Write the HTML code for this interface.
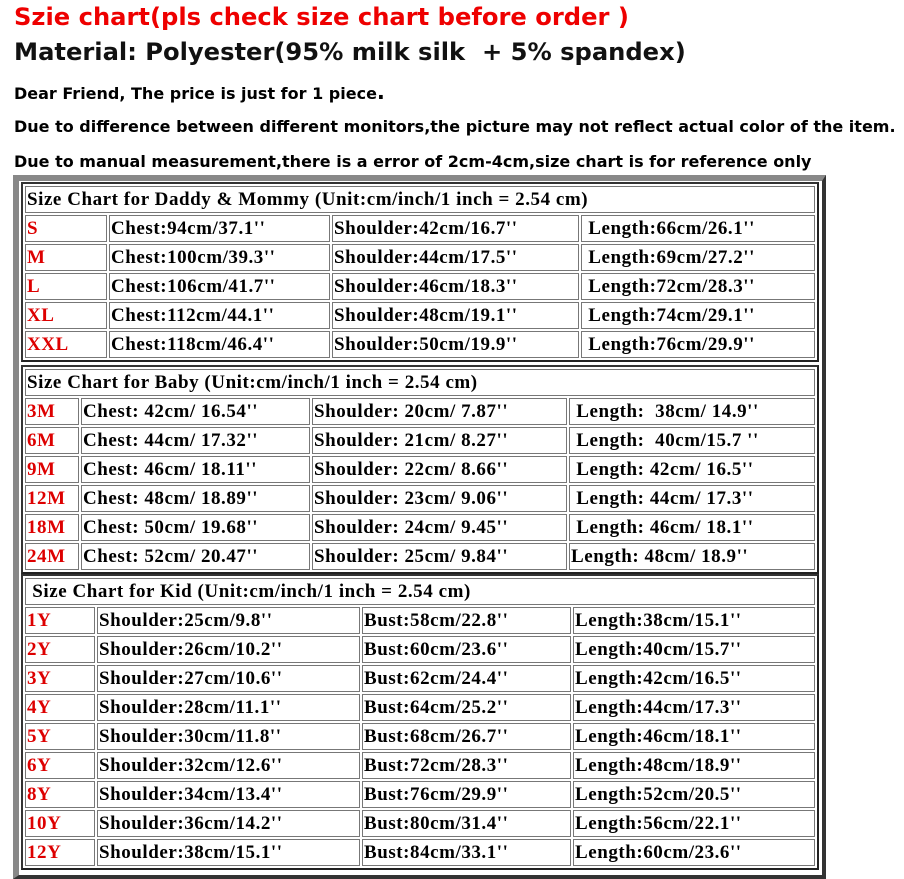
<!DOCTYPE html>
<html><head><meta charset="utf-8"><style>
body{margin:0;width:904px;height:877px;background:#fff;position:relative;overflow:hidden;font-family:"DejaVu Sans","Liberation Sans",sans-serif}
.t{position:absolute;left:14px;font-weight:bold;white-space:nowrap}
.frame{position:absolute;left:13px;top:175px;width:803px;height:694px;border-left:6px solid #888;border-top:6px solid #888;border-right:4px solid #333;border-bottom:4px solid #333}
table{position:absolute;left:21px;width:796px;table-layout:fixed;border-collapse:separate;border-spacing:2px;border:2px solid #333;border-right-color:#222;border-bottom-color:#222;font-family:"Liberation Serif",serif;font-weight:bold;font-size:19px;letter-spacing:0.55px}
td{border:1px solid #777;height:25px;padding:0 1px;white-space:nowrap;overflow:hidden;line-height:25px}
td.r{color:#d00}
</style></head><body>
<div class="t" style="top:3px;font-size:24.2px;color:#e00">Szie chart(pls check size chart before order )</div>
<div class="t" style="top:38px;font-size:24.2px;color:#111">Material: Polyester(95% milk silk&nbsp; + 5% spandex)</div>
<div class="t" style="top:80px;font-size:16px">Dear Friend, The price is just for 1 piece<span style="font-size:21px">.</span></div>
<div class="t" style="top:117px;font-size:16px">Due to difference between different monitors,the picture may not reflect actual color of the item.</div>
<div class="t" style="top:152px;font-size:16px">Due to manual measurement,there is a error of 2cm-4cm,size chart is for reference only</div>
<div class="frame"></div>

<table style="top:182px"><colgroup><col style="width:82px"><col style="width:221px"><col style="width:247px"><col style="width:234px"></colgroup>
<tr><td colspan="4">Size Chart for Daddy &amp; Mommy (Unit:cm/inch/1 inch = 2.54 cm)</td></tr>
<tr><td class="r">S</td><td>Chest:94cm/37.1''</td><td>Shoulder:42cm/16.7''</td><td>&nbsp;Length:66cm/26.1''</td></tr>
<tr><td class="r">M</td><td>Chest:100cm/39.3''</td><td>Shoulder:44cm/17.5''</td><td>&nbsp;Length:69cm/27.2''</td></tr>
<tr><td class="r">L</td><td>Chest:106cm/41.7''</td><td>Shoulder:46cm/18.3''</td><td>&nbsp;Length:72cm/28.3''</td></tr>
<tr><td class="r">XL</td><td>Chest:112cm/44.1''</td><td>Shoulder:48cm/19.1''</td><td>&nbsp;Length:74cm/29.1''</td></tr>
<tr><td class="r">XXL</td><td>Chest:118cm/46.4''</td><td>Shoulder:50cm/19.9''</td><td>&nbsp;Length:76cm/29.9''</td></tr>
</table>

<table style="top:365px"><colgroup><col style="width:54px"><col style="width:229px"><col style="width:255px"><col style="width:246px"></colgroup>
<tr><td colspan="4">Size Chart for Baby (Unit:cm/inch/1 inch = 2.54 cm)</td></tr>
<tr><td class="r">3M</td><td>Chest: 42cm/ 16.54''</td><td>Shoulder: 20cm/ 7.87''</td><td>&nbsp;Length:&nbsp; 38cm/ 14.9''</td></tr>
<tr><td class="r">6M</td><td>Chest: 44cm/ 17.32''</td><td>Shoulder: 21cm/ 8.27''</td><td>&nbsp;Length:&nbsp; 40cm/15.7 ''</td></tr>
<tr><td class="r">9M</td><td>Chest: 46cm/ 18.11''</td><td>Shoulder: 22cm/ 8.66''</td><td>&nbsp;Length: 42cm/ 16.5''</td></tr>
<tr><td class="r">12M</td><td>Chest: 48cm/ 18.89''</td><td>Shoulder: 23cm/ 9.06''</td><td>&nbsp;Length: 44cm/ 17.3''</td></tr>
<tr><td class="r">18M</td><td>Chest: 50cm/ 19.68''</td><td>Shoulder: 24cm/ 9.45''</td><td>&nbsp;Length: 46cm/ 18.1''</td></tr>
<tr><td class="r">24M</td><td>Chest: 52cm/ 20.47''</td><td>Shoulder: 25cm/ 9.84''</td><td>Length: 48cm/ 18.9''</td></tr>
</table>

<table style="top:574px"><colgroup><col style="width:70px"><col style="width:263px"><col style="width:209px"><col style="width:242px"></colgroup>
<tr><td colspan="4">&nbsp;Size Chart for Kid (Unit:cm/inch/1 inch = 2.54 cm)</td></tr>
<tr><td class="r">1Y</td><td>Shoulder:25cm/9.8''</td><td>Bust:58cm/22.8''</td><td>Length:38cm/15.1''</td></tr>
<tr><td class="r">2Y</td><td>Shoulder:26cm/10.2''</td><td>Bust:60cm/23.6''</td><td>Length:40cm/15.7''</td></tr>
<tr><td class="r">3Y</td><td>Shoulder:27cm/10.6''</td><td>Bust:62cm/24.4''</td><td>Length:42cm/16.5''</td></tr>
<tr><td class="r">4Y</td><td>Shoulder:28cm/11.1''</td><td>Bust:64cm/25.2''</td><td>Length:44cm/17.3''</td></tr>
<tr><td class="r">5Y</td><td>Shoulder:30cm/11.8''</td><td>Bust:68cm/26.7''</td><td>Length:46cm/18.1''</td></tr>
<tr><td class="r">6Y</td><td>Shoulder:32cm/12.6''</td><td>Bust:72cm/28.3''</td><td>Length:48cm/18.9''</td></tr>
<tr><td class="r">8Y</td><td>Shoulder:34cm/13.4''</td><td>Bust:76cm/29.9''</td><td>Length:52cm/20.5''</td></tr>
<tr><td class="r">10Y</td><td>Shoulder:36cm/14.2''</td><td>Bust:80cm/31.4''</td><td>Length:56cm/22.1''</td></tr>
<tr><td class="r">12Y</td><td>Shoulder:38cm/15.1''</td><td>Bust:84cm/33.1''</td><td>Length:60cm/23.6''</td></tr>
</table>
</body></html>
